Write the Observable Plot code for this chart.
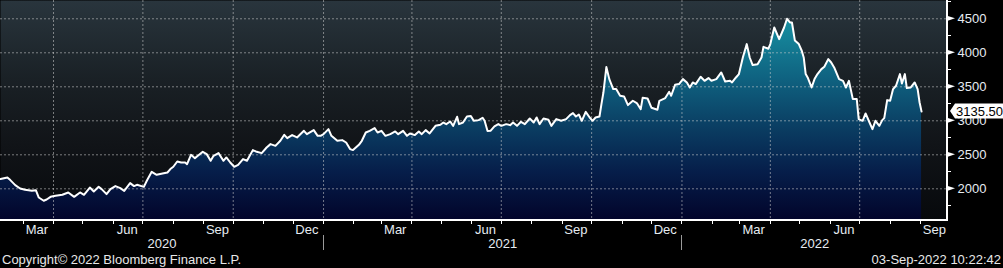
<!DOCTYPE html>
<html><head><meta charset="utf-8">
<script src="https://cdn.jsdelivr.net/npm/d3@7"></script>
<script src="https://cdn.jsdelivr.net/npm/@observablehq/plot@0.6"></script>
<style>
html,body{margin:0;padding:0;background:#000;width:1003px;height:268px;overflow:hidden}
#chart svg{display:block}
#footer{position:relative;height:16px;font:13px "Liberation Sans",Arial,sans-serif;color:#e8e8e8}
#footer .l{position:absolute;left:2px;top:0;line-height:16px}
#footer .r{position:absolute;right:2px;top:0;line-height:16px}
</style></head><body>
<div id="chart"></div>
<div id="footer"><span class="l">Copyright© 2022 Bloomberg Finance L.P.</span><span class="r">03-Sep-2022 10:22:42</span></div>
<script>
const dates = ["2020-02-07","2020-02-14","2020-02-17","2020-02-22","2020-02-27","2020-03-03","2020-03-10","2020-03-14","2020-03-17","2020-03-22","2020-03-25","2020-03-29","2020-04-03","2020-04-10","2020-04-16","2020-04-22","2020-04-28","2020-05-02","2020-05-08","2020-05-12","2020-05-17","2020-05-20","2020-05-25","2020-05-29","2020-06-03","2020-06-08","2020-06-12","2020-06-18","2020-06-22","2020-06-25","2020-07-02","2020-07-05","2020-07-10","2020-07-15","2020-07-21","2020-07-26","2020-07-29","2020-08-01","2020-08-05","2020-08-09","2020-08-13","2020-08-15","2020-08-19","2020-08-23","2020-08-26","2020-08-31","2020-09-04","2020-09-08","2020-09-11","2020-09-16","2020-09-21","2020-09-24","2020-09-28","2020-10-02","2020-10-06","2020-10-11","2020-10-15","2020-10-21","2020-10-25","2020-10-30","2020-11-04","2020-11-08","2020-11-13","2020-11-18","2020-11-22","2020-11-25","2020-11-30","2020-12-05","2020-12-12","2020-12-15","2020-12-22","2020-12-26","2020-12-29","2021-01-01","2021-01-06","2021-01-09","2021-01-15","2021-01-20","2021-01-24","2021-01-28","2021-01-31","2021-02-06","2021-02-09","2021-02-13","2021-02-17","2021-02-22","2021-02-25","2021-03-01","2021-03-05","2021-03-10","2021-03-15","2021-03-18","2021-03-23","2021-03-27","2021-03-30","2021-04-04","2021-04-08","2021-04-11","2021-04-15","2021-04-19","2021-04-25","2021-04-30","2021-05-03","2021-05-06","2021-05-10","2021-05-13","2021-05-17","2021-05-19","2021-05-23","2021-05-27","2021-05-31","2021-06-03","2021-06-08","2021-06-12","2021-06-14","2021-06-17","2021-06-20","2021-06-24","2021-06-28","2021-07-01","2021-07-06","2021-07-10","2021-07-13","2021-07-17","2021-07-21","2021-07-25","2021-07-30","2021-08-03","2021-08-06","2021-08-09","2021-08-13","2021-08-18","2021-08-21","2021-08-26","2021-08-31","2021-09-05","2021-09-09","2021-09-12","2021-09-15","2021-09-18","2021-09-21","2021-09-25","2021-09-29","2021-10-02","2021-10-05","2021-10-09","2021-10-11","2021-10-13","2021-10-16","2021-10-19","2021-10-21","2021-10-23","2021-10-26","2021-10-30","2021-11-03","2021-11-07","2021-11-12","2021-11-16","2021-11-20","2021-11-22","2021-11-27","2021-12-01","2021-12-07","2021-12-09","2021-12-15","2021-12-19","2021-12-21","2021-12-25","2021-12-29","2022-01-02","2022-01-06","2022-01-09","2022-01-12","2022-01-15","2022-01-20","2022-01-24","2022-01-28","2022-01-31","2022-02-05","2022-02-10","2022-02-14","2022-02-19","2022-02-21","2022-02-25","2022-02-28","2022-03-04","2022-03-08","2022-03-11","2022-03-14","2022-03-19","2022-03-23","2022-03-25","2022-03-30","2022-04-01","2022-04-05","2022-04-10","2022-04-15","2022-04-18","2022-04-21","2022-04-23","2022-04-26","2022-04-30","2022-05-03","2022-05-05","2022-05-07","2022-05-09","2022-05-13","2022-05-16","2022-05-19","2022-05-23","2022-05-26","2022-05-30","2022-06-02","2022-06-05","2022-06-10","2022-06-14","2022-06-17","2022-06-20","2022-06-24","2022-06-28","2022-06-30","2022-07-04","2022-07-07","2022-07-11","2022-07-14","2022-07-17","2022-07-21","2022-07-24","2022-07-26","2022-07-29","2022-08-01","2022-08-04","2022-08-07","2022-08-11","2022-08-13","2022-08-16","2022-08-18","2022-08-22","2022-08-26","2022-08-29","2022-08-31","2022-09-02"];
const values = [2143,2166,2128,2054,2005,1985,1970,1980,1872,1824,1843,1882,1897,1912,1946,1882,1946,1912,2019,1960,2029,1996,1922,1996,2040,2010,1970,2084,2040,2059,2029,2118,2250,2206,2225,2240,2290,2324,2402,2387,2387,2363,2500,2451,2485,2544,2510,2412,2485,2525,2412,2461,2387,2324,2353,2437,2412,2569,2544,2525,2607,2657,2632,2706,2794,2745,2790,2755,2853,2804,2863,2779,2779,2804,2877,2779,2706,2716,2681,2584,2569,2647,2706,2828,2853,2892,2828,2853,2779,2804,2843,2804,2853,2779,2814,2790,2843,2804,2863,2814,2926,2941,2975,2951,2990,2926,3059,2951,2975,3063,3069,3000,3010,3045,3000,2850,2853,2917,2951,2926,2951,2936,2975,2926,2985,2951,3034,2975,3049,2951,3034,3015,2926,3025,3000,3025,3084,3113,3063,3093,3000,3132,3049,3000,3049,3063,3246,3416,3790,3613,3540,3466,3466,3368,3358,3231,3295,3261,3172,3340,3328,3191,3162,3294,3334,3426,3368,3529,3540,3613,3564,3490,3564,3540,3647,3588,3628,3588,3613,3711,3578,3588,3564,3637,3687,3931,4128,3931,3819,3833,3931,4088,4060,4128,4372,4201,4372,4500,4446,4446,4180,4128,4030,3931,3687,3637,3490,3613,3687,3760,3794,3907,3857,3784,3613,3588,3490,3588,3319,3319,3025,3000,3108,2975,2877,3000,2926,3010,3040,3304,3294,3466,3515,3687,3549,3687,3481,3490,3564,3466,3269,3135.5];

const yTicks = [2000, 2500, 3000, 3500, 4000, 4500];
const yMinorTicks = [1750, 2250, 2750, 3250, 3750, 4250, 4750];
const monthLabels = ["Mar","Jun","Sep","Dec","Mar","Jun","Sep","Dec","Mar","Jun","Sep"];
const monthLabelDates = ["2020-03-15","2020-06-15","2020-09-15","2020-12-15","2021-03-15","2021-06-15","2021-09-15","2021-12-15","2022-03-15","2022-06-15","2022-09-15"];
const yearLabels = ["2020", "2021", "2022"];
const yearStarts = ["2021-01-01", "2022-01-01"];
const gridDates = ["2020-04-01","2020-07-01","2020-10-01","2021-01-01","2021-04-01","2021-07-01","2021-10-01","2022-01-01","2022-04-01","2022-07-01"];
const xDomain = ["2020-02-07", "2022-09-28T10:00"];
const yDomain = [1534, 4769];
const lastLabel = "3135.50";

const W = 1003, H = 252;
const parse = d => new Date(d);
const data = dates.map((d, i) => ({date: parse(d), value: values[i]}));
const xDom = xDomain.map(parse);
const monthStarts = d3.utcMonths(xDom[0], xDom[1]);
const font = "Liberation Sans, Arial, sans-serif";

// year label positions: middle of each year's visible span
const yearLabelData = yearLabels.map(y => {
  const a = new Date(Math.max(+xDom[0], +new Date(`${y}-01-01`)));
  const b = new Date(Math.min(+xDom[1], +new Date(`${+y + 1}-01-01`)));
  return {label: y, date: new Date((+a + +b) / 2)};
});

function defsMark() {
  const g = d3.create("svg:g");
  const defs = g.append("defs");
  const bg = defs.append("linearGradient").attr("id", "bgGrad")
    .attr("gradientUnits", "userSpaceOnUse").attr("x1", 0).attr("x2", 0).attr("y1", 0).attr("y2", 220);
  [[0, "#29353d"], [0.35, "#1a2126"], [0.65, "#111418"], [1, "#07090c"]]
    .forEach(([o, c]) => bg.append("stop").attr("offset", o).attr("stop-color", c));
  const ag = defs.append("linearGradient").attr("id", "areaGrad")
    .attr("gradientUnits", "userSpaceOnUse").attr("x1", 0).attr("x2", 0).attr("y1", 0).attr("y2", 220);
  [[0, "#1a9aab"], [0.12, "#168a9d"], [0.35, "#0f6381"], [0.55, "#0b4266"], [0.78, "#061e4a"], [1, "#02042a"]]
    .forEach(([o, c]) => ag.append("stop").attr("offset", o).attr("stop-color", c));
  return g.node();
}

function ticksMark(index, scales, values, dim) {
  const g = d3.create("svg:g");
  const right = dim.width - dim.marginRight;
  const bottom = dim.height - dim.marginBottom;
  // month ticks
  monthStarts.forEach(d => {
    const x = Math.round(scales.x(d)) + 0.5;
    g.append("line").attr("x1", x).attr("x2", x).attr("y1", bottom).attr("y2", bottom + 4).attr("stroke", "white");
  });
  // minor y ticks
  yMinorTicks.forEach(t => {
    const y = Math.round(scales.y(t)) + 0.5;
    g.append("line").attr("x1", right).attr("x2", right + 4).attr("y1", y).attr("y2", y).attr("stroke", "white");
  });
  // axis lines
  g.append("line").attr("x1", 0).attr("x2", right + 1).attr("y1", bottom).attr("y2", bottom)
    .attr("stroke", "white").attr("stroke-width", 2);
  g.append("line").attr("x1", right).attr("x2", right).attr("y1", 0).attr("y2", bottom + 1)
    .attr("stroke", "white").attr("stroke-width", 2);
  // year separators
  yearStarts.forEach(d => {
    const x = Math.round(scales.x(parse(d))) + 0.5;
    g.append("line").attr("x1", x).attr("x2", x).attr("y1", bottom + 15).attr("y2", bottom + 30)
      .attr("stroke", "#9a9a9a").attr("stroke-width", 1);
  });
  // major tick triangles
  yTicks.forEach(v => {
    const y = scales.y(v);
    g.append("path").attr("d", `M${right},${y - 2.6}L${right + 8},${y}L${right},${y + 2.6}Z`).attr("fill", "white");
  });
  return g.node();
}

function lastValueMark(index, scales, vals, dim) {
  const g = d3.create("svg:g");
  const right = dim.width - dim.marginRight;
  const y = scales.y(values[values.length - 1]);
  const x0 = right + 3;
  g.append("path")
    .attr("d", `M${x0},${y}L${x0 + 5},${y - 7.5}L${dim.width},${y - 7.5}L${dim.width},${y + 7.5}L${x0 + 5},${y + 7.5}Z`)
    .attr("fill", "white");
  g.append("text").attr("x", x0 + 6).attr("y", y).attr("dy", "0.36em")
    .attr("text-anchor", "start")
    .attr("font-family", font).attr("font-size", 13)
    .attr("fill", "#000").text(lastLabel);
  return g.node();
}

const gridStyle = {stroke: "#d0d0d0", strokeOpacity: 0.55, strokeDasharray: "2,2", strokeWidth: 1};

const chart = Plot.plot({
  width: W, height: H,
  marginTop: 0, marginRight: 56, marginBottom: 32, marginLeft: 0,
  style: {background: "#000", overflow: "visible", fontFamily: font},
  x: {type: "utc", domain: xDom, axis: null},
  y: {domain: yDomain, axis: null},
  marks: [
    defsMark,
    Plot.frame({fill: "url(#bgGrad)", stroke: null}),
    Plot.areaY(data, {x: "date", y1: yDomain[0], y2: "value", fill: "url(#areaGrad)"}),
    Plot.ruleY(yTicks, {y: d => d, ...gridStyle}),
    Plot.ruleX(gridDates.map(parse), {x: d => d, ...gridStyle}),
    Plot.lineY(data, {x: "date", y: "value", stroke: "white", strokeWidth: 2, curve: "linear"}),
    ticksMark,
    Plot.text(yTicks, {y: d => d, frameAnchor: "right", dx: 10, textAnchor: "start", text: d => String(d),
      fill: "#e6ecf2", fontSize: 13, fontFamily: font}),
    Plot.text(monthLabelDates.map(parse), {x: d => d, frameAnchor: "bottom", dy: 9, text: (d, i) => monthLabels[i],
      fill: "#e6ecf2", fontSize: 13, fontFamily: font, lineAnchor: "middle"}),
    Plot.text(yearLabelData, {x: "date", frameAnchor: "bottom", dy: 23, text: "label",
      fill: "#e6ecf2", fontSize: 13, fontFamily: font, lineAnchor: "middle"}),
    lastValueMark
  ]
});
document.getElementById("chart").appendChild(chart);
</script>
</body></html>
